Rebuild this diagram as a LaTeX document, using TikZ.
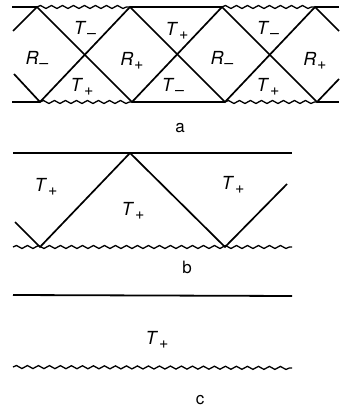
\documentclass[tikz,border=0pt]{standalone}
\usepackage{fontspec}
\setmainfont{TeX Gyre Heros}
\usetikzlibrary{decorations.pathmorphing}
\newcommand{\lbl}[2]{\textit{#1}\kern0.8pt\raisebox{-0.45ex}{\fontsize{16}{16}\selectfont #2}}
\begin{document}
\begin{tikzpicture}[x=1pt,y=-1pt,
  bound/.style={line width=1.8pt},
  wline/.style={line width=1.3pt,decorate,decoration={snake,amplitude=1.5pt,segment length=11pt}},
  horizon/.style={line width=1.7pt},
  lab/.style={font=\fontsize{18}{18}\selectfont,inner sep=0pt},
  captxt/.style={font=\fontsize{17}{17}\selectfont,inner sep=0pt}]
\useasboundingbox (0,0) rectangle (339,411);
% ---- panel a ----
\coordinate (at0) at (12,7);
\coordinate (at1) at (37,7);
\coordinate (at2) at (130,7);
\coordinate (at3) at (222,7);
\coordinate (at4) at (315,7);
\coordinate (at5) at (339,7);
\coordinate (ab0) at (12,102);
\coordinate (ab1) at (40,102);
\coordinate (ab2) at (132,102);
\coordinate (ab3) at (225,102);
\coordinate (ab4) at (317,102);
\coordinate (ab5) at (339,102);
\draw[bound] (at0) -- (at1);
\draw[wline] (at1) -- (at2);
\draw[bound] (at2) -- (at3);
\draw[wline] (at3) -- (at4);
\draw[bound] (at4) -- (at5);
\draw[bound] (ab0) -- (ab1);
\draw[wline] (ab1) -- (ab2);
\draw[bound] (ab2) -- (ab3);
\draw[wline] (ab3) -- (ab4);
\draw[bound] (ab4) -- (ab5);
\coordinate (al1) at (13,31);
\coordinate (al2) at (14,74);
\coordinate (ar1) at (339,31);
\coordinate (ar2) at (339,79);
\draw[horizon] (al1) -- (at1) -- (ab2) -- (at3) -- (ab4) -- (ar2);
\draw[horizon] (al2) -- (ab1) -- (at2) -- (ab3) -- (at4) -- (ar1);
\node[lab] (t1) at (85,30) {\lbl{T}{–}};
\node[lab] (t2) at (177,31) {\lbl{T}{+}};
\node[lab] (t3) at (268,30) {\lbl{T}{–}};
\node[lab] (r1) at (37,60) {\lbl{R}{–}};
\node[lab] (r2) at (132,61) {\lbl{R}{+}};
\node[lab] (r3) at (222,60) {\lbl{R}{–}};
\node[lab] (r4) at (315,61) {\lbl{R}{+}};
\node[lab] (t4) at (82,87) {\lbl{T}{+}};
\node[lab] (t5) at (173,87) {\lbl{T}{–}};
\node[lab] (t6) at (268,87) {\lbl{T}{+}};
\node[captxt] (ca) at (180,128) {a};
% ---- panel b ----
\coordinate (bt0) at (13,153);
\coordinate (bt1) at (292,153);
\coordinate (bb0) at (13,247);
\coordinate (bb1) at (292,247);
\draw[bound] (bt0) -- (bt1);
\draw[wline] (bb0) -- (bb1);
\coordinate (bv0) at (15,222);
\coordinate (bv1) at (40,247);
\coordinate (bv2) at (130,153);
\coordinate (bv3) at (225,247);
\coordinate (bv4) at (287,184);
\draw[horizon] (bv0) -- (bv1) -- (bv2) -- (bv3) -- (bv4);
\node[lab] (b1) at (46,187) {\lbl{T}{+}};
\node[lab] (b2) at (133,211) {\lbl{T}{+}};
\node[lab] (b3) at (233,185) {\lbl{T}{+}};
\node[captxt] (cb) at (187,267) {b};
% ---- panel c ----
\coordinate (ct0) at (13,295);
\coordinate (ct1) at (292,296);
\coordinate (cb0) at (13,367);
\coordinate (cb1) at (292,368);
\draw[bound] (ct0) -- (ct1);
\draw[wline] (cb0) -- (cb1);
\node[lab] (c1) at (157,340) {\lbl{T}{+}};
\node[captxt] (cc) at (200,400) {c};
\end{tikzpicture}
\end{document}
